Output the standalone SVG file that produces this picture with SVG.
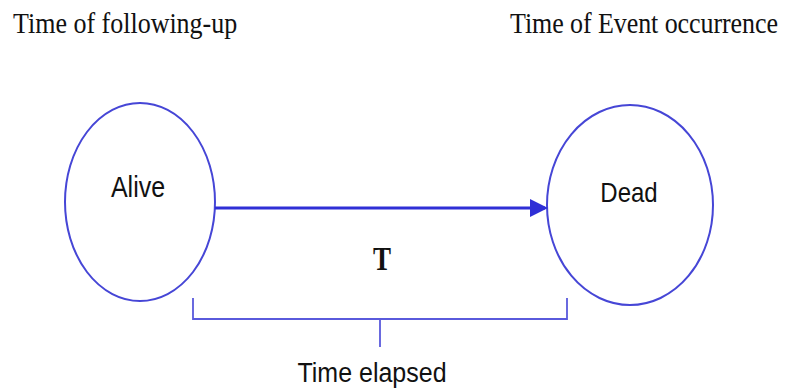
<svg xmlns="http://www.w3.org/2000/svg" width="786" height="391" viewBox="0 0 786 391">
<style>
.node{fill:#fff;stroke:#4646d6;stroke-width:2}
.serif{font-family:"Liberation Serif","Times New Roman",serif;fill:#111}
.sans{font-family:"Liberation Sans",Arial,sans-serif;fill:#111}
.brace{fill:none;stroke:#5a5adc;stroke-width:1.8}
</style>
<defs>
<marker id="ah" markerWidth="6" markerHeight="6" refX="5" refY="3" orient="auto" markerUnits="strokeWidth">
<path d="M0,0 L6,3 L0,6 z" fill="#2f2fd6"/>
</marker>
</defs>
<rect width="786" height="391" fill="#fff"/>
<text class="serif" font-size="26" transform="translate(13,33) scale(1,1.15)">Time of following-up</text>
<text class="serif" font-size="26" transform="translate(510,33) scale(1,1.15)" textLength="268">Time of Event occurrence</text>
<g id="alive">
<ellipse class="node" cx="140" cy="202" rx="75" ry="99"/>
<text class="sans" font-size="25" text-anchor="middle" transform="translate(138,197) scale(1,1.18)">Alive</text>
</g>
<g id="dead">
<ellipse class="node" cx="630" cy="205" rx="83" ry="100"/>
<text class="sans" font-size="24" text-anchor="middle" transform="translate(629,202) scale(1,1.18)">Dead</text>
</g>
<g id="connectors">
<line x1="215" y1="208" x2="545" y2="208" stroke="#2f2fd6" stroke-width="3" marker-end="url(#ah)"/>
</g>
<text class="serif" font-size="27" font-weight="bold" text-anchor="middle" transform="translate(382,270) scale(1,1.25)">T</text>
<g id="bracket">
<path class="brace" d="M193,298 L193,319 L567,319 L567,298 M380,319 L380,347"/>
</g>
<text class="sans" font-size="25" text-anchor="middle" transform="translate(372,382) scale(1,1.12)">Time elapsed</text>
</svg>
